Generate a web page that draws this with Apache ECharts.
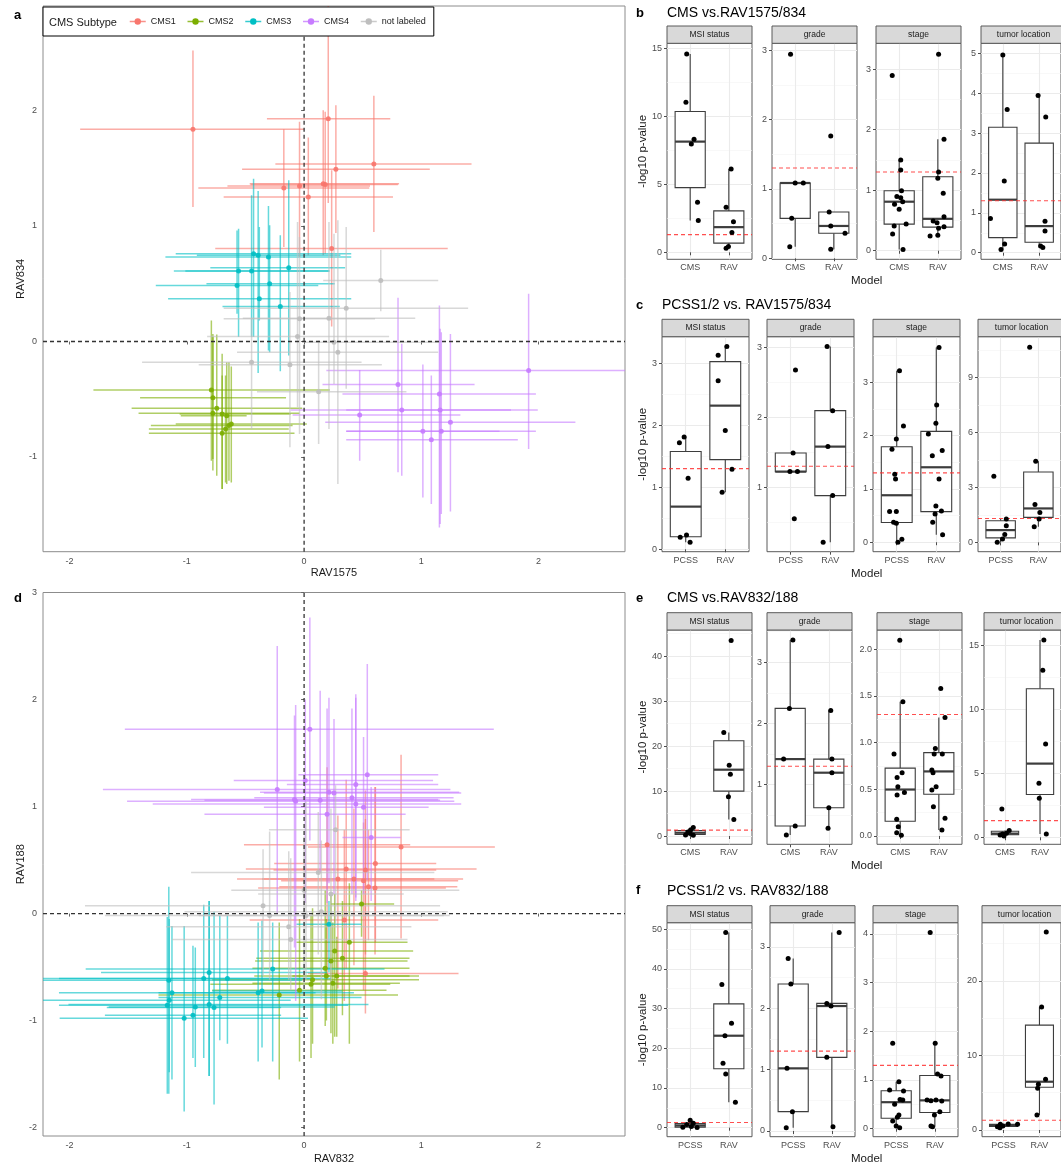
<!DOCTYPE html>
<html>
<head>
<meta charset="utf-8">
<script src="https://cdn.jsdelivr.net/npm/echarts@6/dist/echarts.min.js"></script>
<style>
  html, body { margin: 0; padding: 0; background: #fff; }
  #chart { width: 1061px; height: 1166px; }
</style>
</head>
<body>
<div id="chart"></div>
<script>
// ---------- shared labels ----------
const subtypes = ['CMS1', 'CMS2', 'CMS3', 'CMS4', 'not labeled'];
const subtypeColors = ['#F8766D', '#7CAE00', '#00BFC4', '#C77CFF', '#BEBEBE'];
const scatterTicksX = [-2, -1, 0, 1, 2];
const aTicksY = [-1, 0, 1, 2];
const dTicksY = [-2, -1, 0, 1, 2, 3];
const facetNames = ['MSI status', 'grade', 'stage', 'tumor location'];
const modelsCMS = ['CMS', 'RAV'];
const modelsPCSS = ['PCSS', 'RAV'];
const SIG_LINE = -Math.log10(0.05);

// ---------- panel a: RAV1575 vs RAV834, [x, y, xlow, xhigh, ylow, yhigh] ----------
const aCMS1 = [
  [-0.948, 1.838, -1.91, 0.0, 1.165, 2.52],
  [0.206, 1.928, -0.317, 0.735, 1.2, 2.95],
  [0.595, 1.538, -0.245, 1.428, 0.948, 2.127],
  [0.271, 1.491, -0.529, 1.072, 0.939, 2.046],
  [-0.173, 1.329, -0.902, 0.556, 0.818, 1.838],
  [-0.039, 1.347, -0.654, 0.562, 0.731, 1.902],
  [0.163, 1.367, -0.464, 0.81, 0.746, 2.003],
  [0.18, 1.36, -0.457, 0.8, 0.76, 1.99],
  [0.036, 1.251, -0.686, 0.758, 0.746, 1.766],
  [0.235, 0.806, -0.758, 1.225, 0.13, 1.483]
];
const aCMS2 = [
  [-0.791, -0.419, -1.797, 0.219, -1.032, 0.182],
  [-0.778, -0.488, -1.399, -0.154, -1.017, 0.066],
  [-0.745, -0.578, -1.471, -0.016, -1.162, 0.061],
  [-0.778, -0.621, -1.412, -0.039, -1.118, 0.038],
  [-0.699, -0.627, -1.062, -0.114, -1.277, -0.107],
  [-0.66, -0.642, -1.052, -0.49, -1.234, -0.179],
  [-0.621, -0.714, -1.095, 0.023, -1.22, -0.217],
  [-0.641, -0.728, -1.307, -0.098, -1.205, -0.179],
  [-0.67, -0.757, -1.324, -0.131, -1.22, -0.295],
  [-0.699, -0.795, -1.324, -0.082, -1.277, -0.295]
];
const aCMS3 = [
  [-0.431, 0.76, -1.095, 0.402, 0.038, 1.41],
  [-0.392, 0.746, -0.915, 0.31, -0.272, 1.303],
  [-0.304, 0.731, -1.183, 0.402, -0.078, 1.173],
  [-0.559, 0.61, -1.111, 0.219, 0.038, 0.977],
  [-0.448, 0.61, -1.013, 0.212, 0.038, 1.266],
  [-0.131, 0.639, -0.8, 0.35, -0.121, 1.396],
  [-0.572, 0.486, -1.265, 0.121, 0.24, 0.962],
  [-0.294, 0.5, -0.833, 0.261, -0.092, 1.006],
  [-0.382, 0.37, -1.16, 0.402, 0.182, 0.991],
  [-0.203, 0.303, -0.696, 0.304, -0.257, 0.919]
];
const aCMS4 = [
  [1.915, -0.251, 0.19, 2.8, -0.931, 0.413],
  [0.801, -0.373, 0.157, 1.454, -1.133, 0.379],
  [1.154, -0.454, 0.327, 1.977, -1.61, 0.312],
  [0.833, -0.592, -0.114, 1.993, -1.162, -0.02],
  [1.16, -0.592, 0.359, 1.765, -1.581, 0.11],
  [0.474, -0.636, -0.098, 1.333, -1.032, -0.246],
  [1.248, -0.699, 0.18, 2.314, -1.471, 0.066],
  [1.013, -0.777, 0.359, 1.667, -1.35, -0.199],
  [1.17, -0.777, 0.359, 1.977, -1.494, 0.081],
  [1.085, -0.85, 0.359, 1.823, -1.408, -0.295]
];
const aNotLabeled = [
  [0.654, 0.529, 0.163, 1.144, 0.263, 0.795],
  [0.359, 0.289, -0.686, 1.399, -0.41, 0.991],
  [0.212, 0.202, -0.523, 0.948, -0.757, 1.035],
  [-0.039, 0.197, -0.686, 0.605, -0.8, 0.905],
  [-0.056, 0.043, -0.827, 0.725, -0.569, 1.035],
  [0.255, -0.006, 0.0, 1.16, -0.367, 0.934],
  [0.288, -0.092, -0.572, 1.144, -1.234, 1.049],
  [-0.448, -0.179, -1.382, 0.49, -0.757, 0.197],
  [-0.121, -0.202, -0.899, 0.663, -0.916, 0.428],
  [0.124, -0.434, -0.402, 0.873, -0.887, 0.009]
];

// ---------- panel d: RAV832 vs RAV188 ----------
const dCMS1 = [
  [0.827, 0.623, 0.033, 1.627, -0.233, 1.483],
  [0.196, 0.643, -0.513, 0.905, -0.617, 1.367],
  [0.359, 0.417, -0.497, 1.471, -0.517, 1.25],
  [0.523, 0.407, -0.261, 1.127, -0.383, 1.15],
  [0.608, 0.467, -0.255, 1.127, -0.267, 1.183],
  [0.288, 0.323, -0.572, 1.356, -0.7, 0.917],
  [0.507, 0.307, -0.196, 1.314, -0.717, 0.85],
  [0.425, 0.323, -0.359, 1.111, -0.483, 0.983],
  [0.549, 0.25, -0.212, 1.307, -0.25, 0.783],
  [0.605, 0.24, -0.392, 1.209, -0.383, 1.183],
  [0.343, -0.06, -0.464, 1.144, -0.817, 0.783],
  [0.523, -0.56, 0.033, 1.317, -0.933, 0.883]
];
const dCMS2 = [
  [0.18, -0.51, -0.441, 0.899, -1.05, 0.217],
  [0.261, -0.35, -0.376, 0.93, -1.15, 0.183],
  [0.327, -0.417, -0.408, 0.899, -0.95, 0.117],
  [0.229, -0.443, -0.418, 0.882, -1.117, 0.183],
  [0.059, -0.66, -0.8, 0.735, -1.35, -0.017],
  [0.072, -0.617, -0.784, 0.98, -1.217, 0.05],
  [0.245, -0.65, -0.441, 0.817, -1.217, -0.083],
  [0.278, -0.583, -0.425, 0.899, -1.15, -0.217],
  [-0.212, -0.76, -1.242, 0.801, -1.55, -0.083],
  [-0.039, -0.717, -0.784, 0.703, -1.383, -0.05],
  [0.49, 0.09, 0.229, 0.768, -0.217, 0.217],
  [0.386, -0.267, -0.065, 0.882, -1.217, 0.283],
  [0.19, -0.583, -0.1, 0.98, -1.0, -0.05]
];
const dCMS3 = [
  [0.212, -0.1, -0.065, 0.49, -0.55, 0.117],
  [-0.268, -0.517, -1.863, 0.686, -1.383, -0.083],
  [-0.654, -0.607, -2.3, 0.082, -1.217, -0.017],
  [-0.81, -0.55, -1.732, 0.196, -1.517, 0.117],
  [-0.856, -0.607, -2.091, 0.229, -1.35, 0.083],
  [-1.154, -0.623, -2.3, -0.016, -1.683, 0.25],
  [-1.127, -0.74, -2.091, 0.098, -1.55, -0.117],
  [-1.15, -0.81, -2.3, -0.114, -1.483, -0.05],
  [-1.167, -0.857, -2.091, 0.376, -1.683, -0.033],
  [-0.81, -0.85, -2.01, 0.549, -1.517, 0.117],
  [-0.928, -0.873, -1.667, 0.261, -1.433, -0.317],
  [-0.768, -0.877, -1.683, -0.196, -1.783, 0.017],
  [-1.023, -0.977, -2.085, 0.033, -1.85, -0.117],
  [-0.948, -0.95, -1.699, -0.196, -1.35, -0.3],
  [-0.719, -0.783, -1.242, 0.49, -1.183, -0.017],
  [-0.392, -0.74, -1.242, 0.425, -1.383, -0.083],
  [-0.359, -0.723, -0.784, 0.327, -1.25, -0.067]
];
const dCMS4 = [
  [0.049, 1.723, -1.529, 1.618, 0.683, 2.767],
  [-0.229, 1.16, -1.716, 1.248, 0.0, 2.5],
  [-0.082, 1.067, -0.964, 1.144, -0.317, 1.85],
  [-0.072, 1.05, -1.51, 1.281, -0.817, 1.95],
  [0.137, 1.06, -0.85, 1.16, 0.383, 2.083],
  [0.212, 1.133, -0.376, 1.323, 0.283, 2.017],
  [0.255, 1.127, -0.343, 1.34, 0.183, 1.817],
  [0.441, 1.207, -0.147, 1.144, 0.15, 2.05],
  [0.408, 1.083, -0.425, 1.275, 0.183, 1.917],
  [0.441, 1.023, -1.291, 1.34, 0.117, 2.017],
  [0.539, 1.297, -0.049, 1.144, 0.317, 2.333],
  [0.507, 0.993, -0.343, 1.062, 0.183, 1.65],
  [0.196, 0.927, -0.85, 0.866, 0.1, 1.917],
  [0.572, 0.71, 0.327, 0.824, 0.117, 1.183],
  [0.01, 1.243, -0.6, 1.1, 0.1, 2.0]
];
const dNotLabeled = [
  [-0.35, 0.073, -1.869, 1.16, -0.583, 0.6],
  [0.147, 0.017, -1.02, 1.225, -0.8, 0.683],
  [0.229, 0.183, -0.392, 0.85, -0.667, 0.983],
  [-0.131, -0.123, -1.176, 0.915, -0.617, 0.583],
  [-0.114, -0.243, -1.127, 0.882, -0.717, 0.517],
  [0.121, 0.383, -0.964, 1.111, -0.383, 0.95],
  [0.0, 0.217, -0.621, 1.324, -0.667, 0.717],
  [-0.294, -0.017, -1.699, 1.242, -0.617, 0.767],
  [0.016, -0.017, -0.899, 1.193, -0.617, 1.05],
  [0.268, 0.783, -0.3, 0.9, -0.1, 1.2]
];

// ---------- -log10 p-values per association test (values + horizontal jitter) ----------
// b: CMS vs. RAV1575/834
const bMsiCMS = [14.58, 11.03, 8.31, 7.97, 3.68, 2.33];
const bMsiCMSJit = [-0.09, -0.11, 0.10, 0.03, 0.19, 0.21];
const bMsiRAV = [6.13, 3.31, 2.25, 1.45, 0.42, 0.29];
const bMsiRAVJit = [0.06, -0.07, 0.12, 0.08, -0.01, -0.07];
const bGradeCMS = [2.94, 1.085, 1.085, 0.576, 0.168];
const bGradeCMSJit = [-0.12, 0.0, 0.21, -0.09, -0.14];
const bGradeRAV = [1.762, 0.667, 0.466, 0.36, 0.13];
const bGradeRAVJit = [-0.08, -0.12, -0.08, 0.29, -0.08];
const bStageCMS = [2.896, 1.5, 1.335, 0.99, 0.894, 0.877, 0.81, 0.767, 0.684, 0.44, 0.41, 0.276, 0.022];
const bStageCMSJit = [-0.18, 0.04, 0.04, 0.06, -0.06, 0.04, 0.09, -0.12, 0.0, 0.18, -0.13, -0.17, 0.10];
const bStageRAV = [3.249, 1.842, 1.302, 1.197, 0.949, 0.563, 0.491, 0.463, 0.397, 0.37, 0.254, 0.243];
const bStageRAVJit = [0.02, 0.16, 0.02, 0.0, 0.14, 0.16, -0.12, -0.02, 0.16, 0.02, 0.0, -0.2];
const bLocCMS = [4.958, 3.592, 1.8, 0.858, 0.217, 0.083];
const bLocCMSJit = [0.0, 0.12, 0.04, -0.34, 0.05, -0.05];
const bLocRAV = [3.942, 3.4, 0.792, 0.542, 0.167, 0.133];
const bLocRAVJit = [-0.03, 0.18, 0.16, 0.16, 0.04, 0.1];

// c: PCSS1/2 vs. RAV1575/834
const cMsiPCSS = [1.81, 1.72, 1.145, 0.231, 0.194, 0.113];
const cMsiPCSSJit = [-0.04, -0.16, 0.06, 0.02, -0.14, 0.11];
const cMsiRAV = [3.269, 3.129, 2.72, 1.914, 1.29, 0.919];
const cMsiRAVJit = [0.04, -0.18, -0.18, 0.0, 0.17, -0.08];
const cGradePCSS = [2.676, 1.49, 1.224, 1.224, 0.552];
const cGradePCSSJit = [0.12, 0.06, -0.02, 0.17, 0.09];
const cGradeRAV = [3.01, 2.095, 1.581, 0.881, 0.214];
const cGradeRAVJit = [-0.08, 0.06, -0.06, 0.06, -0.18];
const cStagePCSS = [3.219, 2.181, 1.938, 1.744, 1.275, 1.188, 0.575, 0.575, 0.375, 0.356, 0.056, 0.0];
const cStagePCSSJit = [0.07, 0.17, -0.01, -0.12, -0.05, -0.03, -0.18, -0.01, -0.08, -0.01, 0.13, 0.03];
const cStageRAV = [3.656, 2.575, 2.231, 2.031, 1.719, 1.625, 1.188, 0.681, 0.588, 0.531, 0.375, 0.138];
const cStageRAVJit = [0.07, 0.01, -0.01, -0.2, 0.15, -0.1, 0.07, -0.01, 0.13, -0.03, -0.09, 0.16];
const cLocPCSS = [3.618, 1.273, 0.909, 0.43, 0.182, 0.0];
const cLocPCSSJit = [-0.18, 0.15, 0.15, 0.11, 0.05, -0.09];
const cLocRAV = [10.67, 4.436, 2.073, 1.636, 1.273, 0.855];
const cLocRAVJit = [-0.23, -0.07, -0.09, 0.04, 0.02, -0.11];

// e: CMS vs. RAV832/188
const eMsiCMS = [1.9, 1.35, 0.9, 0.55, 0.25, 0.15];
const eMsiCMSJit = [0.08, 0.01, -0.06, 0.0, -0.12, 0.08];
const eMsiRAV = [43.46, 22.99, 15.74, 13.75, 8.72, 3.7];
const eMsiRAVJit = [0.06, -0.13, 0.01, 0.04, -0.01, 0.13];
const eGradeCMS = [3.359, 2.245, 1.418, 0.326, 0.179];
const eGradeCMSJit = [0.07, -0.02, -0.17, 0.13, -0.1];
const eGradeRAV = [2.212, 1.418, 1.196, 0.625, 0.288];
const eGradeRAVJit = [0.05, 0.08, 0.08, 0.0, -0.02];
const eStageCMS = [2.096, 1.437, 0.877, 0.677, 0.627, 0.528, 0.467, 0.439, 0.178, 0.1, 0.036, 0.007];
const eStageCMSJit = [-0.01, 0.07, -0.16, 0.05, -0.08, -0.06, 0.11, -0.08, -0.09, -0.05, -0.09, 0.03];
const eStageRAV = [1.579, 1.269, 0.938, 0.877, 0.877, 0.706, 0.677, 0.528, 0.492, 0.314, 0.189, 0.064];
const eStageRAVJit = [0.05, 0.16, -0.09, 0.09, -0.12, -0.18, -0.15, -0.07, -0.18, -0.14, 0.16, 0.08];
const eLocCMS = [2.218, 0.522, 0.313, 0.26, 0.183, 0.104];
const eLocCMSJit = [-0.09, 0.12, 0.04, -0.07, -0.14, -0.03];
const eLocRAV = [15.44, 13.07, 7.3, 4.23, 3.05, 0.26];
const eLocRAVJit = [0.11, 0.08, 0.16, -0.03, -0.02, 0.18];

// f: PCSS1/2 vs. RAV832/188
const fMsiPCSS = [1.9, 1.1, 0.8, 0.3, 0.1, 0.05];
const fMsiPCSSJit = [0.0, 0.08, -0.09, 0.03, -0.19, 0.18];
const fMsiRAV = [49.16, 36.07, 26.26, 23.15, 16.19, 13.51, 6.38];
const fMsiRAVJit = [-0.08, -0.18, 0.07, -0.1, -0.15, -0.08, 0.17];
const fGradePCSS = [2.811, 2.393, 1.02, 0.315, 0.054];
const fGradePCSSJit = [-0.13, -0.06, -0.16, -0.02, -0.18];
const fGradeRAV = [3.234, 2.078, 2.035, 1.199, 0.071];
const fGradeRAVJit = [0.19, -0.13, -0.02, -0.13, 0.03];
const fStagePCSS = [1.753, 0.966, 0.795, 0.774, 0.6, 0.589, 0.5, 0.281, 0.233, 0.158, 0.055, 0.021];
const fStagePCSSJit = [-0.09, 0.07, -0.17, 0.19, 0.1, 0.17, -0.04, 0.07, 0.03, -0.09, 0.0, 0.09];
const fStageRAV = [4.027, 1.753, 1.123, 1.082, 0.589, 0.589, 0.575, 0.568, 0.349, 0.281, 0.055, 0.041];
const fStageRAVJit = [-0.12, 0.01, 0.07, 0.16, -0.2, 0.03, -0.1, 0.18, 0.13, -0.01, -0.1, -0.06];
const fLocPCSS = [0.81, 0.76, 0.76, 0.54, 0.45, 0.31];
const fLocPCSSJit = [0.13, -0.09, 0.39, -0.02, -0.17, -0.1];
const fLocRAV = [26.56, 16.48, 6.81, 6.14, 5.6, 2.02];
const fLocRAVJit = [0.19, 0.06, 0.17, -0.03, -0.05, -0.07];

// y tick labels of each facet row
const bTicks = [[0, 5, 10, 15], [0, 1, 2, 3], [0, 1, 2, 3], [0, 1, 2, 3, 4, 5]];
const cTicks = [[0, 1, 2, 3], [1, 2, 3], [0, 1, 2, 3], [0, 3, 6, 9]];
const eTicks = [[0, 10, 20, 30, 40], [1, 2, 3], [0, 0.5, 1, 1.5, 2], [0, 5, 10, 15]];
const fTicks = [[0, 10, 20, 30, 40, 50], [0, 1, 2, 3], [0, 1, 2, 3, 4], [0, 10, 20]];

// ---------- styling / layout ----------
const FONT = '"Liberation Sans", Arial, Helvetica, sans-serif';
const TICK_TEXT = '#4D4D4D';
const BOX_WIDTH = 0.78;

const boxRows = [
  { letter: 'b', title: 'CMS vs.RAV1575/834', models: modelsCMS, ticks: bTicks,
    lefts: [667, 772, 876, 981], width: 85, stripTop: 26, top: 43.3, bottom: 259.3, titleY: 13.3,
    ranges: [[-0.515, 15.37], [-0.0144, 3.098], [-0.142, 3.428], [-0.165, 5.25]],
    groups: [[bMsiCMS, bMsiRAV], [bGradeCMS, bGradeRAV], [bStageCMS, bStageRAV], [bLocCMS, bLocRAV]],
    jitter: [[bMsiCMSJit, bMsiRAVJit], [bGradeCMSJit, bGradeRAVJit], [bStageCMSJit, bStageRAVJit], [bLocCMSJit, bLocRAVJit]] },
  { letter: 'c', title: 'PCSS1/2 vs. RAV1575/834', models: modelsPCSS, ticks: cTicks,
    lefts: [662, 767, 873, 978], width: 87, stripTop: 319.3, top: 336.7, bottom: 551.7, titleY: 305,
    ranges: [[-0.039, 3.429], [0.08, 3.151], [-0.178, 3.857], [-0.51, 11.24]],
    groups: [[cMsiPCSS, cMsiRAV], [cGradePCSS, cGradeRAV], [cStagePCSS, cStageRAV], [cLocPCSS, cLocRAV]],
    jitter: [[cMsiPCSSJit, cMsiRAVJit], [cGradePCSSJit, cGradeRAVJit], [cStagePCSSJit, cStageRAVJit], [cLocPCSSJit, cLocRAVJit]] },
  { letter: 'e', title: 'CMS vs.RAV832/188', models: modelsCMS, ticks: eTicks,
    lefts: [667, 767, 877, 984], width: 85, stripTop: 612.7, top: 630, bottom: 844.3, titleY: 598.3,
    ranges: [[-1.84, 45.8], [0.028, 3.524], [-0.089, 2.206], [-0.55, 16.22]],
    groups: [[eMsiCMS, eMsiRAV], [eGradeCMS, eGradeRAV], [eStageCMS, eStageRAV], [eLocCMS, eLocRAV]],
    jitter: [[eMsiCMSJit, eMsiRAVJit], [eGradeCMSJit, eGradeRAVJit], [eStageCMSJit, eStageRAVJit], [eLocCMSJit, eLocRAVJit]] },
  { letter: 'f', title: 'PCSS1/2 vs. RAV832/188', models: modelsPCSS, ticks: fTicks,
    lefts: [667, 770, 873, 982], width: 85, stripTop: 905.7, top: 922.7, bottom: 1136.7, titleY: 890.7,
    ranges: [[-2.27, 51.6], [-0.093, 3.392], [-0.164, 4.23], [-0.898, 27.8]],
    groups: [[fMsiPCSS, fMsiRAV], [fGradePCSS, fGradeRAV], [fStagePCSS, fStageRAV], [fLocPCSS, fLocRAV]],
    jitter: [[fMsiPCSSJit, fMsiRAVJit], [fGradePCSSJit, fGradeRAVJit], [fStagePCSSJit, fStageRAVJit], [fLocPCSSJit, fLocRAVJit]] }
];

// ---------- helpers ----------
function quantile(sorted, p) {
  const h = (sorted.length - 1) * p;
  const lo = Math.floor(h);
  const hi = Math.min(lo + 1, sorted.length - 1);
  return sorted[lo] + (h - lo) * (sorted[hi] - sorted[lo]);
}
function boxStats(values) {
  const s = values.slice().sort((a, b) => a - b);
  const q1 = quantile(s, 0.25), med = quantile(s, 0.5), q3 = quantile(s, 0.75);
  const iqr = q3 - q1;
  const lo = s.find(v => v >= q1 - 1.5 * iqr);
  const hi = s.slice().reverse().find(v => v <= q3 + 1.5 * iqr);
  return [lo, q1, med, q3, hi];
}
function minorTicks(ticks, range) {
  const step = ticks.length > 1 ? ticks[1] - ticks[0] : 1;
  const out = ticks.map(t => t - step / 2).concat([ticks[ticks.length - 1] + step / 2]);
  return out.filter(v => v > range[0] && v < range[1]);
}

function renderErrorBar(params, api) {
  const x = api.value(0), y = api.value(1);
  const h1 = api.coord([api.value(2), y]), h2 = api.coord([api.value(3), y]);
  const v1 = api.coord([x, api.value(4)]), v2 = api.coord([x, api.value(5)]);
  const cs = params.coordSys;
  const style = { stroke: api.visual('color'), lineWidth: 1.5, opacity: 0.6 };
  return {
    type: 'group',
    clipPath: { type: 'rect', shape: { x: cs.x, y: cs.y, width: cs.width, height: cs.height } },
    children: [
      { type: 'line', shape: { x1: h1[0], y1: h1[1], x2: h2[0], y2: h2[1] }, style: style },
      { type: 'line', shape: { x1: v1[0], y1: v1[1], x2: v2[0], y2: v2[1] }, style: style }
    ]
  };
}

function renderBox(params, api) {
  const x = api.value(0);
  const lo = api.coord([x, api.value(1)]);
  const q1 = api.coord([x, api.value(2)]);
  const md = api.coord([x, api.value(3)]);
  const q3 = api.coord([x, api.value(4)]);
  const hi = api.coord([x, api.value(5)]);
  const left = api.coord([x - BOX_WIDTH / 2, api.value(3)])[0];
  const right = api.coord([x + BOX_WIDTH / 2, api.value(3)])[0];
  const stroke = '#3d3d3d';
  return {
    type: 'group',
    children: [
      { type: 'line', shape: { x1: lo[0], y1: lo[1], x2: q1[0], y2: q1[1] }, style: { stroke: stroke, lineWidth: 1.1 } },
      { type: 'line', shape: { x1: q3[0], y1: q3[1], x2: hi[0], y2: hi[1] }, style: { stroke: stroke, lineWidth: 1.1 } },
      { type: 'rect', shape: { x: left, y: q3[1], width: right - left, height: q1[1] - q3[1] },
        style: { fill: '#ffffff', stroke: stroke, lineWidth: 1.1 } },
      { type: 'line', shape: { x1: left, y1: md[1], x2: right, y2: md[1] }, style: { stroke: stroke, lineWidth: 2.2 } }
    ]
  };
}

// ---------- build option ----------
const grids = [], xAxes = [], yAxes = [], series = [], graphics = [];

// scatter panels a and d
const scatterPanels = [
  { top: 6, height: 545.7, yMin: -1.82, yMax: 2.905, yTicks: aTicksY, xName: 'RAV1575', yName: 'RAV834', xGap: 16,
    sets: [aCMS1, aCMS2, aCMS3, aCMS4, aNotLabeled] },
  { top: 592.5, height: 543.5, yMin: -2.078, yMax: 3.0, yTicks: dTicksY, xName: 'RAV832', yName: 'RAV188', xGap: 17,
    sets: [dCMS1, dCMS2, dCMS3, dCMS4, dNotLabeled] }
];
scatterPanels.forEach((p, gi) => {
  grids.push({ left: 43, top: p.top, width: 582, height: p.height, show: true,
    borderColor: '#8c8c8c', borderWidth: 1, backgroundColor: 'transparent' });
  xAxes.push({
    type: 'value', gridIndex: gi, min: -2.227, max: 2.737,
    name: p.xName, nameLocation: 'middle', nameGap: p.xGap, nameMoveOverlap: false,
    nameTextStyle: { fontSize: 11, color: '#1a1a1a', fontFamily: FONT },
    axisLine: { show: false },
    axisTick: { show: true, length: 3, lineStyle: { color: '#666' }, customValues: scatterTicksX },
    axisLabel: { customValues: scatterTicksX, fontSize: 9, color: TICK_TEXT, margin: 5, fontFamily: FONT },
    splitLine: { show: false }
  });
  yAxes.push({
    type: 'value', gridIndex: gi, min: p.yMin, max: p.yMax,
    name: p.yName, nameLocation: 'middle', nameGap: 17, nameMoveOverlap: false,
    nameTextStyle: { fontSize: 11, color: '#1a1a1a', fontFamily: FONT },
    axisLine: { show: false },
    axisTick: { show: true, length: 3, lineStyle: { color: '#666' }, customValues: p.yTicks },
    axisLabel: { customValues: p.yTicks, fontSize: 9, color: TICK_TEXT, margin: 6, fontFamily: FONT },
    splitLine: { show: false }
  });
  p.sets.forEach((set, si) => {
    series.push({
      type: 'custom', name: 'bars ' + subtypes[si], xAxisIndex: gi, yAxisIndex: gi,
      renderItem: renderErrorBar, data: set, z: 2, silent: true,
      itemStyle: { color: subtypeColors[si] }
    });
  });
  p.sets.forEach((set, si) => {
    series.push({
      type: 'line', name: subtypes[si], xAxisIndex: gi, yAxisIndex: gi,
      data: set.map(r => [r[0], r[1]]), symbol: 'circle', symbolSize: 5, showSymbol: true,
      lineStyle: { width: 0, opacity: 0 }, itemStyle: { color: subtypeColors[si], opacity: 0.9 },
      z: 3, silent: true
    });
  });
  // dashed reference lines through the origin
  series.push({
    type: 'line', xAxisIndex: gi, yAxisIndex: gi, data: [[0, p.yMin], [0, p.yMax]],
    showSymbol: false, z: 6, silent: true,
    lineStyle: { color: '#333', width: 1.3, type: [4, 3] }
  });
  series.push({
    type: 'line', xAxisIndex: gi, yAxisIndex: gi, data: [[-2.227, 0], [2.737, 0]],
    showSymbol: false, z: 6, silent: true,
    lineStyle: { color: '#333', width: 1.3, type: [4, 3] }
  });
});

// facet rows b, c, e, f
boxRows.forEach(row => {
  row.lefts.forEach((left, fi) => {
    const gi = grids.length;
    const range = row.ranges[fi];
    const ticks = row.ticks[fi];
    const decimals = ticks.some(t => !Number.isInteger(t)) ? 1 : 0;
    grids.push({ left: left, top: row.top, width: row.width, height: row.bottom - row.top, show: true,
      borderColor: '#5a5a5a', borderWidth: 1, backgroundColor: 'transparent' });
    xAxes.push({
      type: 'value', gridIndex: gi, min: 0.4, max: 2.6,
      axisLine: { show: false },
      axisTick: { show: true, length: 3, lineStyle: { color: '#4d4d4d' }, customValues: [1, 2] },
      axisLabel: { customValues: [1, 2], formatter: v => row.models[Math.round(v) - 1],
        fontSize: 9, color: TICK_TEXT, margin: 4, fontFamily: FONT },
      splitLine: { show: true, lineStyle: { color: '#EBEBEB', width: 1.1 } }
    });
    const yMain = yAxes.length;
    yAxes.push({
      type: 'value', gridIndex: gi, min: range[0], max: range[1],
      axisLine: { show: false },
      axisTick: { show: true, length: 3, lineStyle: { color: '#4d4d4d' }, customValues: ticks },
      axisLabel: { customValues: ticks, formatter: v => v.toFixed(decimals),
        fontSize: 9, color: TICK_TEXT, margin: 5, fontFamily: FONT },
      splitLine: { show: true, lineStyle: { color: '#EBEBEB', width: 1.1 } }
    });
    const minors = minorTicks(ticks, range);
    yAxes.push({
      type: 'value', gridIndex: gi, min: range[0], max: range[1],
      axisLine: { show: false },
      axisTick: { show: false, customValues: minors },
      axisLabel: { show: false, customValues: minors },
      splitLine: { show: true, lineStyle: { color: '#F4F4F4', width: 0.6 } }
    });
    const stats = row.groups[fi].map((vals, k) => [k + 1].concat(boxStats(vals)));
    series.push({
      type: 'custom', xAxisIndex: gi, yAxisIndex: yMain, renderItem: renderBox,
      data: stats, z: 2, silent: true
    });
    // p = 0.05 significance threshold
    series.push({
      type: 'line', xAxisIndex: gi, yAxisIndex: yMain, data: [[0.4, SIG_LINE], [2.6, SIG_LINE]],
      showSymbol: false, z: 3, silent: true,
      lineStyle: { color: '#FF3030', width: 1.1, opacity: 0.85, type: [4, 3] }
    });
    const pts = [];
    row.groups[fi].forEach((vals, k) => {
      vals.forEach((v, j) => pts.push([k + 1 + row.jitter[fi][k][j], v]));
    });
    series.push({
      type: 'scatter', xAxisIndex: gi, yAxisIndex: yMain, data: pts,
      symbol: 'circle', symbolSize: 5, itemStyle: { color: '#000', opacity: 1 }, z: 4, silent: true
    });

    // facet strip
    graphics.push({ type: 'rect', z: 50,
      shape: { x: left, y: row.stripTop, width: row.width, height: row.top - row.stripTop },
      style: { fill: '#D9D9D9', stroke: '#5a5a5a', lineWidth: 1 } });
    graphics.push({ type: 'text', z: 51, x: left + row.width / 2, y: (row.stripTop + row.top) / 2,
      style: { text: facetNames[fi], fontSize: 8.5, fontFamily: FONT, fill: '#1a1a1a',
        align: 'center', verticalAlign: 'middle' } });
  });

  // row-level texts
  graphics.push({ type: 'text', z: 51, x: 636, y: row.titleY,
    style: { text: row.letter, fontSize: 13, fontWeight: 'bold', fontFamily: FONT, fill: '#000',
      align: 'left', verticalAlign: 'middle' } });
  graphics.push({ type: 'text', z: 51, x: row.lefts[0], y: row.titleY,
    style: { text: row.title, fontSize: 14, fontFamily: FONT, fill: '#000',
      align: 'left', verticalAlign: 'middle' } });
  graphics.push({ type: 'text', z: 51, x: 866.7, y: row.bottom + 22,
    style: { text: 'Model', fontSize: 11.5, fontFamily: FONT, fill: '#1a1a1a',
      align: 'center', verticalAlign: 'middle' } });
  graphics.push({ type: 'text', z: 51, x: 643, y: (row.top + row.bottom) / 2, rotation: Math.PI / 2,
    style: { text: '-log10 p-value', fontSize: 11.5, fontFamily: FONT, fill: '#1a1a1a',
      align: 'center', verticalAlign: 'middle' } });
});

// panel letters of the scatter panels and legend title
graphics.push({ type: 'text', z: 51, x: 14, y: 15,
  style: { text: 'a', fontSize: 13, fontWeight: 'bold', fontFamily: FONT, fill: '#000', align: 'left', verticalAlign: 'middle' } });
graphics.push({ type: 'text', z: 51, x: 14, y: 598,
  style: { text: 'd', fontSize: 13, fontWeight: 'bold', fontFamily: FONT, fill: '#000', align: 'left', verticalAlign: 'middle' } });
graphics.push({ type: 'text', z: 200, x: 49, y: 22.5,
  style: { text: 'CMS Subtype', fontSize: 11, fontFamily: FONT, fill: '#1a1a1a', align: 'left', verticalAlign: 'middle' } });

const option = {
  animation: false,
  textStyle: { fontFamily: FONT },
  grid: grids,
  xAxis: xAxes,
  yAxis: yAxes,
  series: series,
  legend: {
    data: subtypes, left: 43, top: 7, orient: 'horizontal',
    padding: [10, 8, 10, 86], itemWidth: 16, itemHeight: 8, itemGap: 11,
    backgroundColor: '#fff', borderColor: '#000', borderWidth: 1, borderRadius: 0,
    textStyle: { fontSize: 9, color: '#1a1a1a', fontFamily: FONT },
    lineStyle: { width: 1.5, opacity: 0.8 },
    itemStyle: { opacity: 1 },
    selectedMode: false, z: 100
  },
  graphic: { elements: graphics }
};

const chart = echarts.init(document.getElementById('chart'), null, { renderer: 'canvas' });
chart.setOption(option);
</script>
</body>
</html>
